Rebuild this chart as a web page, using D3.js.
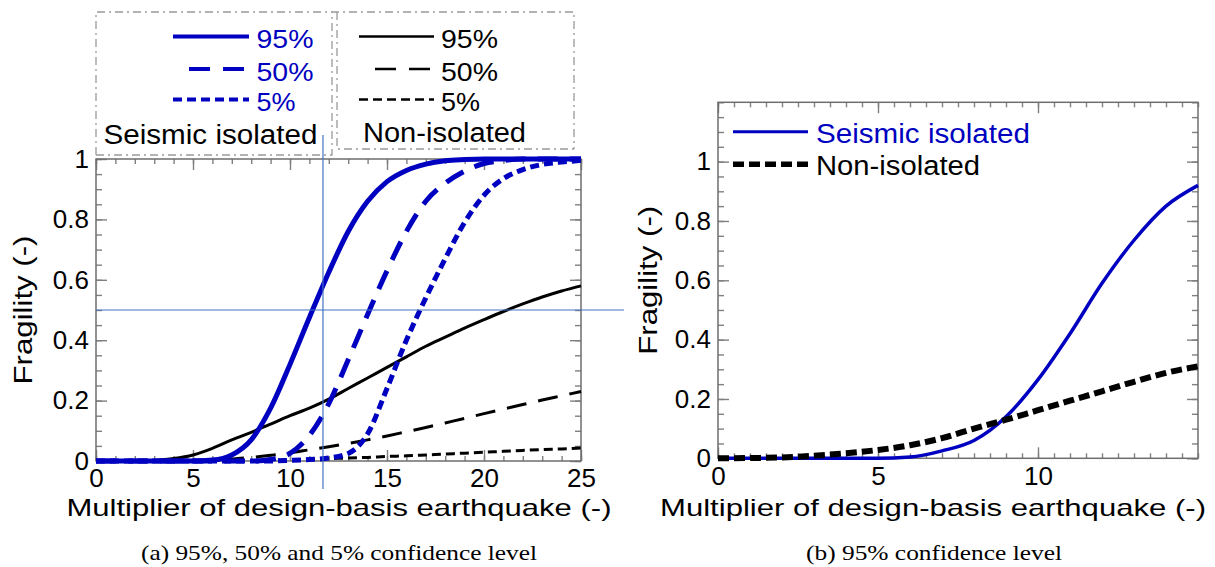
<!DOCTYPE html>
<html>
<head>
<meta charset="utf-8">
<script src="https://cdn.jsdelivr.net/npm/d3@7"></script>
<style>
  body { margin: 0; background: #fff; }
  text { font-family: "Liberation Sans", Arial, sans-serif; }
</style>
</head>
<body>
<script>
// values: x = multiplier of design-basis earthquake, y = fragility
var multA = [0,1,2,3,4,5,6,7,8,9,10,11,12,13,14,15,16,17,18,19,20,21,22,23,24,25];
var iso95 = [0,0,0,0,0,0,0.003,0.02,0.07,0.175,0.32,0.475,0.625,0.76,0.86,0.925,0.962,0.983,0.994,0.998,1,1,1,1,1,1];
var iso50 = [0,0,0,0,0,0,0,0,0,0.005,0.025,0.085,0.19,0.335,0.485,0.63,0.76,0.86,0.92,0.96,0.985,0.995,1,1,1,1];
var iso5  = [0,0,0,0,0,0,0,0,0,0,0.002,0.005,0.01,0.025,0.09,0.24,0.4,0.54,0.67,0.79,0.88,0.935,0.965,0.982,0.99,0.995];
var non95 = [0,0,0,0.002,0.008,0.02,0.042,0.07,0.095,0.122,0.15,0.175,0.205,0.24,0.275,0.31,0.345,0.38,0.41,0.44,0.468,0.495,0.52,0.543,0.563,0.58];
var non50 = [0,0,0,0,0,0,0.002,0.006,0.012,0.019,0.027,0.037,0.047,0.058,0.07,0.083,0.097,0.111,0.126,0.141,0.157,0.172,0.187,0.202,0.216,0.23];
var non5  = [0,0,0,0,0,0,0,0,0.001,0.002,0.004,0.006,0.008,0.01,0.012,0.015,0.017,0.02,0.023,0.026,0.029,0.032,0.035,0.038,0.04,0.043];

var multB = [0,1,2,3,4,5,6,7,8,9,10,11,12,13,14,15];
var isoB  = [0,0,0,0,0,0,0.004,0.025,0.06,0.14,0.265,0.42,0.59,0.735,0.85,0.92];
var nonB  = [0,0.001,0.003,0.009,0.017,0.028,0.044,0.068,0.1,0.13,0.162,0.194,0.226,0.258,0.288,0.31];

var xTicksA = [0,5,10,15,20,25];
var xTicksB = [0,5,10];
var yTicks = [0,0.2,0.4,0.6,0.8,1];
var levels = ["95%","50%","5%"];
var groupNames = ["Seismic isolated","Non-isolated"];
var refX = 11.7, refY = 0.5;   // guide lines drawn in panel (a)

var blue = "#0000c0";
var lineStyles = {
  iso95: {color: blue, width: 5, dash: null},
  iso50: {color: blue, width: 5, dash: "20,12"},
  iso5:  {color: blue, width: 5, dash: "9,5"},
  non95: {color: "#000", width: 3, dash: null},
  non50: {color: "#000", width: 3, dash: "20,12"},
  non5:  {color: "#000", width: 3, dash: "9,5"}
};

var svg = d3.select("body").append("svg")
  .attr("width", 1215)
  .attr("height", 567);

// scales
var xA = d3.scaleLinear().domain([0, 25]).range([96, 581]);
var yA = d3.scaleLinear().domain([0, 1]).range([461, 159]);
var xB = d3.scaleLinear().domain([0, 15]).range([718, 1198]);
var yB = d3.scaleLinear().domain([0, 1.2]).range([458.3, 102.3]);

function fit(sel, w) {
  return sel.attr("textLength", w).attr("lengthAdjust", "spacingAndGlyphs");
}

// frame with inside ticks on all four sides
function drawFrame(x, y, xMajor, xMinorN, yMinorN) {
  var x0 = x.range()[0], x1 = x.range()[1];
  var y0 = y.range()[0], y1 = y.range()[1];
  var g = svg.append("g");
  var fmt = d3.format("~g");

  var axes = [
    [d3.axisBottom(x).tickValues(xMajor).tickSize(-11).tickPadding(8).tickFormat(fmt), "translate(0," + y0 + ")", true],
    [d3.axisBottom(x).ticks(xMinorN).tickSize(-5).tickFormat(""), "translate(0," + y0 + ")", false],
    [d3.axisTop(x).tickValues(xMajor).tickSize(-11).tickFormat(""), "translate(0," + y1 + ")", false],
    [d3.axisTop(x).ticks(xMinorN).tickSize(-5).tickFormat(""), "translate(0," + y1 + ")", false],
    [d3.axisLeft(y).tickValues(yTicks).tickSize(-11).tickPadding(7).tickFormat(fmt), "translate(" + x0 + ",0)", true],
    [d3.axisLeft(y).ticks(yMinorN).tickSize(-6).tickFormat(""), "translate(" + x0 + ",0)", false],
    [d3.axisRight(y).tickValues(yTicks).tickSize(-11).tickFormat(""), "translate(" + x1 + ",0)", false],
    [d3.axisRight(y).ticks(yMinorN).tickSize(-6).tickFormat(""), "translate(" + x1 + ",0)", false]
  ];
  axes.forEach(function(a) {
    var ag = g.append("g").attr("transform", a[1]).call(a[0]);
    ag.select(".domain").remove();
    ag.selectAll("line").attr("stroke", "#808080").attr("stroke-width", 1.4);
    if (a[2]) {
      ag.selectAll("text")
        .attr("font-size", 26)
        .attr("fill", "#000")
        .style("font-family", '"Liberation Sans", Arial, sans-serif');
    }
  });

  g.append("rect")
    .attr("x", x0).attr("y", y1)
    .attr("width", x1 - x0).attr("height", y0 - y1)
    .attr("fill", "none")
    .attr("stroke", "#6e6e6e")
    .attr("stroke-width", 1.5);
}

drawFrame(xA, yA, xTicksA, 25, 20);
drawFrame(xB, yB, xTicksB, 30, 24);

function drawCurve(xs, ys, x, y, st) {
  var line = d3.line()
    .x(function(d, i) { return x(xs[i]); })
    .y(function(d) { return y(d); })
    .curve(d3.curveMonotoneX);
  svg.append("path")
    .datum(ys)
    .attr("d", line)
    .attr("fill", "none")
    .attr("stroke", st.color)
    .attr("stroke-width", st.width)
    .attr("stroke-dasharray", st.dash)
    .attr("stroke-linejoin", "round");
}

// panel (a)
drawCurve(multA, non95, xA, yA, lineStyles.non95);
drawCurve(multA, non50, xA, yA, lineStyles.non50);
drawCurve(multA, non5, xA, yA, lineStyles.non5);
drawCurve(multA, iso95, xA, yA, lineStyles.iso95);
drawCurve(multA, iso50, xA, yA, lineStyles.iso50);
drawCurve(multA, iso5, xA, yA, lineStyles.iso5);

// panel (b)
drawCurve(multB, isoB, xB, yB, {color: blue, width: 3.5, dash: null});
drawCurve(multB, nonB, xB, yB, {color: "#000", width: 6, dash: "11,5"});

// guide lines in panel (a)
svg.append("line")
  .attr("x1", xA(0)).attr("x2", 624)
  .attr("y1", yA(refY)).attr("y2", yA(refY))
  .attr("stroke", "#4472c4").attr("stroke-width", 1.2);
svg.append("line")
  .attr("x1", xA(refX)).attr("x2", xA(refX))
  .attr("y1", 135).attr("y2", 489)
  .attr("stroke", "#4472c4").attr("stroke-width", 1.2);

// legend of panel (a): dash-dot boxes
var boxStyle = function(p) {
  return p.attr("fill", "none").attr("stroke", "#9a9a9a")
    .attr("stroke-width", 1.3).attr("stroke-dasharray", "8,4,2,4");
};
boxStyle(svg.append("path").attr("d", "M96,155V12H574V149"));
boxStyle(svg.append("path").attr("d", "M96,155H332V12"));
boxStyle(svg.append("path").attr("d", "M337,12V149H574"));

var rowY = [36.5, 69, 99.5];
var labelW = [57, 57, 39];
var legendCols = [
  {keys: ["iso95","iso50","iso5"], lineX: 173, lineX2: 249, textX: 256.5, color: blue, lw: 4,
   name: groupNames[0], nameX: 103.5, nameY: 144.3, nameW: 214},
  {keys: ["non95","non50","non5"], lineX: 359, lineX2: 434, textX: 441, color: "#000", lw: 2.6,
   name: groupNames[1], nameX: 363, nameY: 141.5, nameW: 163}
];
legendCols.forEach(function(c) {
  levels.forEach(function(lv, i) {
    var st = lineStyles[c.keys[i]];
    svg.append("line")
      .attr("x1", st.dash === "20,12" ? c.lineX + 16 : c.lineX)
      .attr("x2", c.lineX2)
      .attr("y1", rowY[i]).attr("y2", rowY[i])
      .attr("stroke", c.color)
      .attr("stroke-width", c.lw)
      .attr("stroke-dasharray", st.dash === "20,12" ? "21,13" : st.dash);
    fit(svg.append("text")
      .attr("x", c.textX).attr("y", rowY[i] + 11.8)
      .attr("font-size", 26)
      .attr("fill", c.color)
      .text(lv), labelW[i]);
  });
  fit(svg.append("text")
    .attr("x", c.nameX).attr("y", c.nameY)
    .attr("font-size", 27)
    .attr("fill", "#000")
    .text(c.name), c.nameW);
});

// legend of panel (b)
svg.append("line")
  .attr("x1", 733).attr("x2", 808).attr("y1", 131.7).attr("y2", 131.7)
  .attr("stroke", blue).attr("stroke-width", 3);
fit(svg.append("text").attr("x", 816).attr("y", 142.7).attr("font-size", 27)
  .attr("fill", blue).text(groupNames[0]), 214);
svg.append("line")
  .attr("x1", 733).attr("x2", 808).attr("y1", 164.3).attr("y2", 164.3)
  .attr("stroke", "#000").attr("stroke-width", 5.5).attr("stroke-dasharray", "11,5");
fit(svg.append("text").attr("x", 816).attr("y", 175.3).attr("font-size", 27)
  .attr("fill", "#000").text(groupNames[1]), 164);

// axis titles
var xTitle = "Multiplier of design-basis earthquake (-)";
fit(svg.append("text").attr("x", 66.5).attr("y", 515.5).attr("font-size", 24).text(xTitle), 545);
fit(svg.append("text").attr("x", 660).attr("y", 515.5).attr("font-size", 24).text(xTitle), 546);

fit(svg.append("text")
  .attr("transform", "translate(32," + ((yA(0) + yA(1)) / 2) + ") rotate(-90)")
  .attr("text-anchor", "middle")
  .attr("font-size", 26)
  .text("Fragility (-)"), 149);
fit(svg.append("text")
  .attr("transform", "translate(657," + ((yB(0) + yB(1.2)) / 2) + ") rotate(-90)")
  .attr("text-anchor", "middle")
  .attr("font-size", 26)
  .text("Fragility (-)"), 149);

// captions
var serif = '"Liberation Serif", "Times New Roman", serif';
fit(svg.append("text").attr("x", 141).attr("y", 560)
  .style("font-family", serif)
  .attr("font-size", 22).text("(a) 95%, 50% and 5% confidence level"), 396);
fit(svg.append("text").attr("x", 806).attr("y", 560)
  .style("font-family", serif)
  .attr("font-size", 22).text("(b) 95% confidence level"), 256);
</script>
</body>
</html>
